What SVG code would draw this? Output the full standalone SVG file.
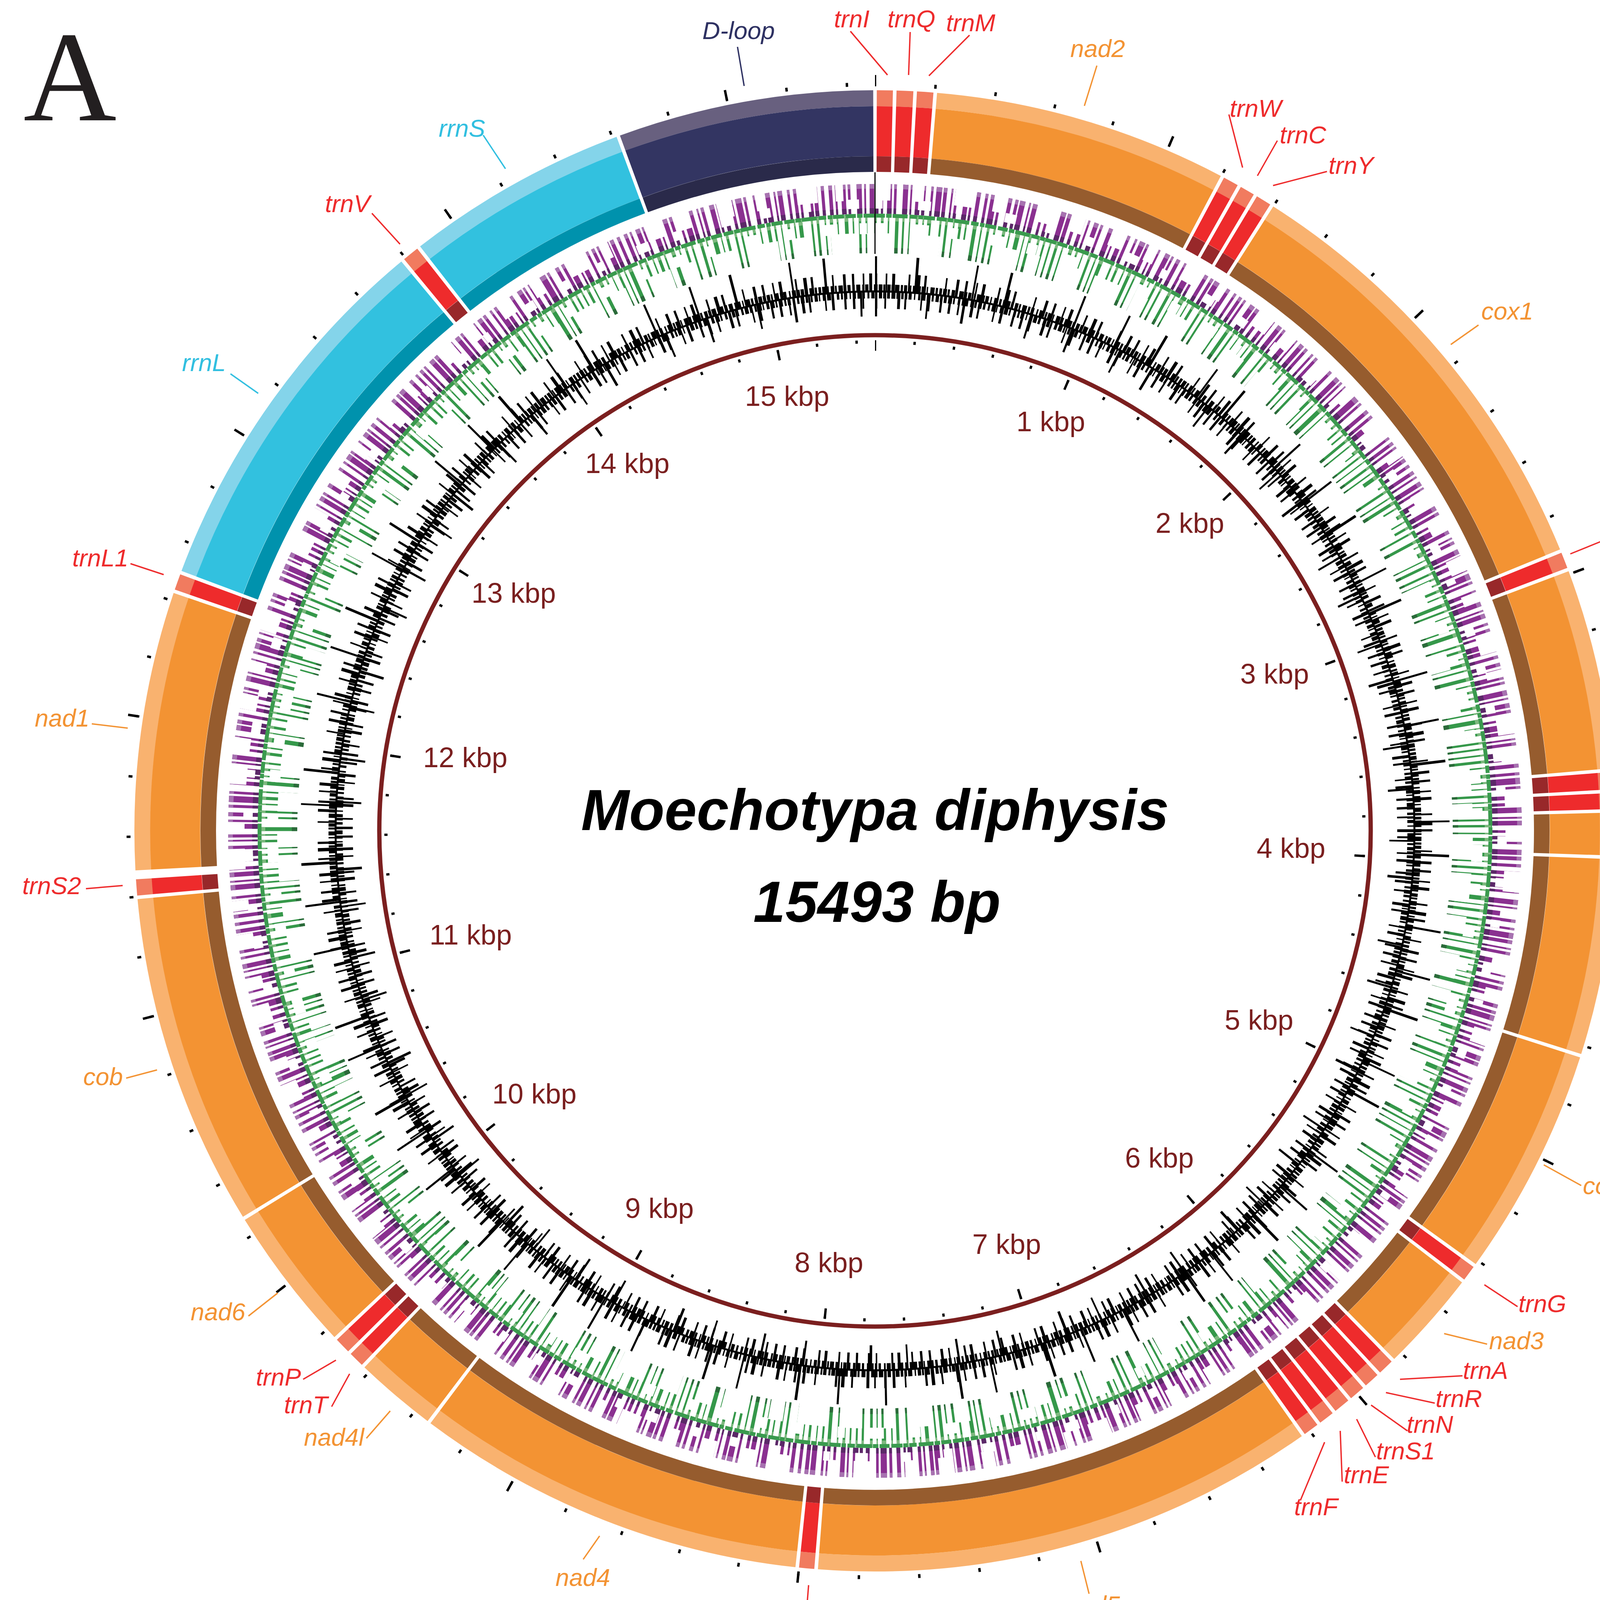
<svg xmlns="http://www.w3.org/2000/svg" width="5018" height="5600" viewBox="0 0 5018 5600">
<style>
text{font-family:"Liberation Sans",Arial,Helvetica,sans-serif}
.lab{font-size:63px;font-style:italic}
.ft{fill:#EE2B2C}.fp{fill:#F39333}.fr{fill:#31BFE0}.fd{fill:#2E3162}
.ld{fill:none;stroke-width:3.5}
.st{stroke:#EE2B2C}.sp{stroke:#F39333}.sr{stroke:#31BFE0}.sd{stroke:#2E3162}
.tr .L{stroke:#F17B5F}.tr .M{stroke:#EE2B2C}.tr .D{stroke:#98282A}
.pc .L{stroke:#F9B26F}.pc .M{stroke:#F39333}.pc .D{stroke:#965C2E}
.rr .L{stroke:#84D4EA}.rr .M{stroke:#32C1DF}.rr .D{stroke:#0092AD}
.dl .L{stroke:#68607F}.dl .M{stroke:#333562}.dl .D{stroke:#2A2A4A}
.kb{font-size:72px;fill:#7A1F1F;text-anchor:middle}
.lg{font-size:77px;font-weight:bold;fill:#231F20}
.sf{font-family:"Liberation Serif","Times New Roman",serif}
.bb{font-family:"Liberation Serif","Times New Roman",serif;font-weight:bold;font-size:145px;fill:#000}
.yb{fill:#F4B331;stroke:#000;stroke-width:4}
</style>
<defs>
<path id="bL" d="M0,-1875.5A1875.5,1875.5 0 1 1 0,1875.5A1875.5,1875.5 0 1 1 0,-1875.5" pathLength="15493" fill="none" stroke-width="41"/>
<path id="bM" d="M0,-1791A1791,1791 0 1 1 0,1791A1791,1791 0 1 1 0,-1791" pathLength="15493" fill="none" stroke-width="128"/>
<path id="bD" d="M0,-1707A1707,1707 0 1 1 0,1707A1707,1707 0 1 1 0,-1707" pathLength="15493" fill="none" stroke-width="40"/>
</defs>
<rect width="5018" height="5600" fill="#fff"/>

<text class="sf" x="60" y="308" font-size="330" fill="#231F20">A</text>

<g id="tracks" transform="translate(2240 2127)" fill="none">
<path d="M0,-1618A1618,1618 0 1 1 0,1618A1618,1618 0 1 1 0,-1618" pathLength="15493" stroke="#8A3090" stroke-width="76" stroke-dasharray="14 10 8 16 18 8 10 24 20 9 7 14 18 8 12 20 9 11 22 6 14 16 7 9 12 22 19 7 9 13 15 18 11 10 24 8 10 26 15 12 12 6 21 15 7 8 18 19 10 13 13 9 9 21 20 6 15 14 12 17"/>
<path d="M0,-1587A1587,1587 0 1 1 0,1587A1587,1587 0 1 1 0,-1587" pathLength="15493" stroke="#5B2868" stroke-width="14" stroke-dasharray="14 10 8 16 18 8 10 24 20 9 7 14 18 8 12 20 9 11 22 6 14 16 7 9 12 22 19 7 9 13 15 18 11 10 24 8 10 26 15 12 12 6 21 15 7 8 18 19 10 13 13 9 9 21 20 6 15 14 12 17"/>
<path d="M0,-1650A1650,1650 0 1 1 0,1650A1650,1650 0 1 1 0,-1650" pathLength="15493" stroke="#A772B0" stroke-width="12" stroke-dasharray="14 10 8 16 18 8 10 24 20 9 7 14 18 8 12 20 9 11 22 6 14 16 7 9 12 22 19 7 9 13 15 18 11 10 24 8 10 26 15 12 12 6 21 15 7 8 18 19 10 13 13 9 9 21 20 6 15 14 12 17"/>
<path d="M0,-1636A1636,1636 0 1 1 0,1636A1636,1636 0 1 1 0,-1636" pathLength="15493" stroke="#fff" stroke-width="44" stroke-dasharray="60 90 40 120 80 70 30 150 70 60 50 110"/>
<path d="M0,-1605A1605,1605 0 1 1 0,1605A1605,1605 0 1 1 0,-1605" pathLength="15493" stroke="#fff" stroke-width="24" stroke-dasharray="30 140 50 100 25 170 45 120 35 130"/>
<path d="M0,-1529A1529,1529 0 1 1 0,1529A1529,1529 0 1 1 0,-1529" pathLength="15493" stroke="#35984A" stroke-width="100" stroke-dasharray="7 17 11 17 6 24 14 15 8 19 5 22 10 17 6 13 16 34 8 15 10 22 6 15 13 15 7 25 15 17 6 19 10 17 8 28 12 15 6 21 18 16 5 16 11 25 9 16 8 18"/>
<path d="M0,-1569A1569,1569 0 1 1 0,1569A1569,1569 0 1 1 0,-1569" pathLength="15493" stroke="#7DB97F" stroke-width="16" stroke-dasharray="7 17 11 17 6 24 14 15 8 19 5 22 10 17 6 13 16 34 8 15 10 22 6 15 13 15 7 25 15 17 6 19 10 17 8 28 12 15 6 21 18 16 5 16 11 25 9 16 8 18"/>
<path d="M0,-1486A1486,1486 0 1 1 0,1486A1486,1486 0 1 1 0,-1486" pathLength="15493" stroke="#2B6A3A" stroke-width="14" stroke-dasharray="7 17 11 17 6 24 14 15 8 19 5 22 10 17 6 13 16 34 8 15 10 22 6 15 13 15 7 25 15 17 6 19 10 17 8 28 12 15 6 21 18 16 5 16 11 25 9 16 8 18"/>
<path d="M0,-1503A1503,1503 0 1 1 0,1503A1503,1503 0 1 1 0,-1503" pathLength="15493" stroke="#fff" stroke-width="54" stroke-dasharray="80 70 120 60 60 100 100 50 50 90"/>
<path d="M0,-1542A1542,1542 0 1 1 0,1542A1542,1542 0 1 1 0,-1542" pathLength="15493" stroke="#fff" stroke-width="28" stroke-dasharray="40 110 70 90 30 140 50 100"/>
<path d="M0,-1575A1575,1575 0 1 1 0,1575A1575,1575 0 1 1 0,-1575" pathLength="15493" stroke="#3A9A4E" stroke-width="10" stroke-dasharray="40 5 22 4 60 8 30 6 18 3 45 7"/>
<path d="M0,-1381A1381,1381 0 1 1 0,1381A1381,1381 0 1 1 0,-1381" stroke="#000" stroke-width="5"/>
<path d="M0,-1390A1390,1390 0 1 1 0,1390A1390,1390 0 1 1 0,-1390" pathLength="15493" stroke="#000" stroke-width="18" stroke-dasharray="12 5 17 4 9 9 15 4 8 8 20 6 10 5 14 12 7 7 18 9 9 4 15 8 6 11 19 5 10 7"/>
<path d="M0,-1404A1404,1404 0 1 1 0,1404A1404,1404 0 1 1 0,-1404" pathLength="15493" stroke="#000" stroke-width="46" stroke-dasharray="10 38 7 22 13 60 8 30 15 18 10 85 7 42 12 28"/>
<path d="M0,-1426A1426,1426 0 1 1 0,1426A1426,1426 0 1 1 0,-1426" pathLength="15493" stroke="#000" stroke-width="90" stroke-dasharray="9 170 12 250 8 140 11 320 9 200"/>
<path d="M0,-1372A1372,1372 0 1 1 0,1372A1372,1372 0 1 1 0,-1372" pathLength="15493" stroke="#000" stroke-width="18" stroke-dasharray="9 9 15 5 6 12 13 7 18 5 8 14 11 8 9 6 14 11 6 13 10 7 17 6 11 12"/>
<path d="M0,-1359A1359,1359 0 1 1 0,1359A1359,1359 0 1 1 0,-1359" pathLength="15493" stroke="#000" stroke-width="44" stroke-dasharray="11 33 8 52 13 20 9 66 7 25 12 46 10 30"/>
<path d="M0,-1349A1349,1349 0 1 1 0,1349A1349,1349 0 1 1 0,-1349" pathLength="15493" stroke="#000" stroke-width="64" stroke-dasharray="10 230 8 160 12 300 9 190"/>
<path d="M0,-1269A1269,1269 0 1 1 0,1269A1269,1269 0 1 1 0,-1269" stroke="#7B1F1F" stroke-width="11"/>
<path d="M0,-1252A1252,1252 0 1 1 0,1252A1252,1252 0 1 1 0,-1252" pathLength="15493" stroke="#000" stroke-width="8" stroke-dasharray="12 188" stroke-dashoffset="6"/>
<path d="M0,-1242A1242,1242 0 1 1 0,1242A1242,1242 0 1 1 0,-1242" pathLength="15493" stroke="#000" stroke-width="26" stroke-dasharray="12 988" stroke-dashoffset="6"/>
<path d="M0,-1911A1911,1911 0 1 1 0,1911A1911,1911 0 1 1 0,-1911" pathLength="15493" stroke="#000" stroke-width="10" stroke-dasharray="8 192" stroke-dashoffset="4"/>
<path d="M0,-1922A1922,1922 0 1 1 0,1922A1922,1922 0 1 1 0,-1922" pathLength="15493" stroke="#000" stroke-width="26" stroke-dasharray="8 992" stroke-dashoffset="4"/>
<path d="M0,-1686V-1477" stroke="#000" stroke-width="3"/>
</g>

<g id="kbp-labels">
<text class="kb" x="2690" y="1104">1 kbp</text>
<text class="kb" x="3046" y="1364">2 kbp</text>
<text class="kb" x="3263" y="1750">3 kbp</text>
<text class="kb" x="3305" y="2196">4 kbp</text>
<text class="kb" x="3223" y="2636">5 kbp</text>
<text class="kb" x="2968" y="2989">6 kbp</text>
<text class="kb" x="2577" y="3210">7 kbp</text>
<text class="kb" x="2122" y="3257">8 kbp</text>
<text class="kb" x="1688" y="3118">9 kbp</text>
<text class="kb" x="1368" y="2825">10 kbp</text>
<text class="kb" x="1205" y="2418">11 kbp</text>
<text class="kb" x="1191" y="1964">12 kbp</text>
<text class="kb" x="1315" y="1543">13 kbp</text>
<text class="kb" x="1606" y="1211">14 kbp</text>
<text class="kb" x="2015" y="1039">15 kbp</text>
</g>

<g id="leaders">
<path class="ld st" d="M2177,80L2272,192"/>
<path class="ld st" d="M2330,82L2326,192"/>
<path class="ld st" d="M2482,90L2378,194"/>
<path class="ld sp" d="M2808,168L2776,271"/>
<path class="ld st" d="M3146,293L3181,429"/>
<path class="ld st" d="M3270,360L3219,450"/>
<path class="ld st" d="M3397,439L3259,475"/>
<path class="ld sp" d="M3785,832L3714,882"/>
<path class="ld st" d="M4126,1375L4020,1418"/>
<path class="ld sp" d="M4219,1703L4123,1721"/>
<path class="ld st" d="M4258,1960L4158,1989"/>
<path class="ld st" d="M4265,2064L4158,2043"/>
<path class="ld sp" d="M4261,2139L4144,2150"/>
<path class="ld sp" d="M4236,2471L4130,2450"/>
<path class="ld sp" d="M4048,3035L3952,2982"/>
<path class="ld st" d="M3800,3289L3885,3345"/>
<path class="ld sp" d="M3697,3414L3807,3441"/>
<path class="ld st" d="M3584,3531L3744,3522"/>
<path class="ld st" d="M3548,3565L3673,3592"/>
<path class="ld st" d="M3510,3597L3603,3663"/>
<path class="ld st" d="M3473,3633L3521,3730"/>
<path class="ld st" d="M3431,3663L3436,3793"/>
<path class="ld st" d="M3391,3692L3329,3841"/>
<path class="ld sp" d="M2767,3996L2788,4080"/>
<path class="ld st" d="M2070,4058L2063,4146"/>
<path class="ld sp" d="M1535,3932L1493,3992"/>
<path class="ld sp" d="M999,3612L938,3682"/>
<path class="ld st" d="M895,3517L849,3601"/>
<path class="ld st" d="M860,3482L776,3531"/>
<path class="ld sp" d="M711,3310L636,3369"/>
<path class="ld sp" d="M402,2739L323,2760"/>
<path class="ld st" d="M314,2267L220,2275"/>
<path class="ld sp" d="M327,1864L235,1853"/>
<path class="ld st" d="M419,1471L334,1443"/>
<path class="ld sr" d="M661,1007L590,957"/>
<path class="ld st" d="M1024,625L952,546"/>
<path class="ld sr" d="M1294,432L1237,346"/>
<path class="ld sd" d="M1905,220L1888,120"/>
</g>

<g id="genes">
<g id="gene-trnI"><g class="tr" transform="translate(2240 2127)" style="stroke-dasharray:54 40000;stroke-dashoffset:-6"><use href="#bL" class="L"/><use href="#bM" class="M"/><use href="#bD" class="D"/></g><text class="lab ft" x="2135" y="70">trnI</text></g>
<g id="gene-trnQ"><g class="tr" transform="translate(2240 2127)" style="stroke-dasharray:56 40000;stroke-dashoffset:-72"><use href="#bL" class="L"/><use href="#bM" class="M"/><use href="#bD" class="D"/></g><text class="lab ft" x="2272" y="70">trnQ</text></g>
<g id="gene-trnM"><g class="tr" transform="translate(2240 2127)" style="stroke-dasharray:55 40000;stroke-dashoffset:-140"><use href="#bL" class="L"/><use href="#bM" class="M"/><use href="#bD" class="D"/></g><text class="lab ft" x="2422" y="80">trnM</text></g>
<g id="gene-nad2"><g class="pc" transform="translate(2240 2127)" style="stroke-dasharray:991 40000;stroke-dashoffset:-207"><use href="#bL" class="L"/><use href="#bM" class="M"/><use href="#bD" class="D"/></g><text class="lab fp" x="2740" y="146">nad2</text></g>
<g id="gene-trnW"><g class="tr" transform="translate(2240 2127)" style="stroke-dasharray:52 40000;stroke-dashoffset:-1210"><use href="#bL" class="L"/><use href="#bM" class="M"/><use href="#bD" class="D"/></g><text class="lab ft" x="3148" y="299">trnW</text></g>
<g id="gene-trnC"><g class="tr" transform="translate(2240 2127)" style="stroke-dasharray:50 40000;stroke-dashoffset:-1274"><use href="#bL" class="L"/><use href="#bM" class="M"/><use href="#bD" class="D"/></g><text class="lab ft" x="3276" y="367">trnC</text></g>
<g id="gene-trnY"><g class="tr" transform="translate(2240 2127)" style="stroke-dasharray:52 40000;stroke-dashoffset:-1336"><use href="#bL" class="L"/><use href="#bM" class="M"/><use href="#bD" class="D"/></g><text class="lab ft" x="3401" y="445">trnY</text></g>
<g id="gene-cox1"><g class="pc" transform="translate(2240 2127)" style="stroke-dasharray:1512 40000;stroke-dashoffset:-1400"><use href="#bL" class="L"/><use href="#bM" class="M"/><use href="#bD" class="D"/></g><text class="lab fp" x="3792" y="818">cox1</text></g>
<g id="gene-trnL2"><g class="tr" transform="translate(2240 2127)" style="stroke-dasharray:54 40000;stroke-dashoffset:-2924"><use href="#bL" class="L"/><use href="#bM" class="M"/><use href="#bD" class="D"/></g><text class="lab ft" x="4130" y="1389">trnL2</text></g>
<g id="gene-cox2"><g class="pc" transform="translate(2240 2127)" style="stroke-dasharray:674 40000;stroke-dashoffset:-2990"><use href="#bL" class="L"/><use href="#bM" class="M"/><use href="#bD" class="D"/></g><text class="lab fp" x="4222" y="1689">cox2</text></g>
<g id="gene-trnK"><g class="tr" transform="translate(2240 2127)" style="stroke-dasharray:58 40000;stroke-dashoffset:-3676"><use href="#bL" class="L"/><use href="#bM" class="M"/><use href="#bD" class="D"/></g><text class="lab ft" x="4265" y="1975">trnK</text></g>
<g id="gene-trnD"><g class="tr" transform="translate(2240 2127)" style="stroke-dasharray:54 40000;stroke-dashoffset:-3746"><use href="#bL" class="L"/><use href="#bM" class="M"/><use href="#bD" class="D"/></g><text class="lab ft" x="4268" y="2078">trnD</text></g>
<g id="gene-atp8"><g class="pc" transform="translate(2240 2127)" style="stroke-dasharray:144 40000;stroke-dashoffset:-3812"><use href="#bL" class="L"/><use href="#bM" class="M"/><use href="#bD" class="D"/></g><text class="lab fp" x="4268" y="2153">atp8</text></g>
<g id="gene-atp6"><g class="pc" transform="translate(2240 2127)" style="stroke-dasharray:660 40000;stroke-dashoffset:-3968"><use href="#bL" class="L"/><use href="#bM" class="M"/><use href="#bD" class="D"/></g><text class="lab fp" x="4240" y="2489">atp6</text></g>
<g id="gene-cox3"><g class="pc" transform="translate(2240 2127)" style="stroke-dasharray:774 40000;stroke-dashoffset:-4640"><use href="#bL" class="L"/><use href="#bM" class="M"/><use href="#bD" class="D"/></g><text class="lab fp" x="4052" y="3057">cox3</text></g>
<g id="gene-trnG"><g class="tr" transform="translate(2240 2127)" style="stroke-dasharray:52 40000;stroke-dashoffset:-5426"><use href="#bL" class="L"/><use href="#bM" class="M"/><use href="#bD" class="D"/></g><text class="lab ft" x="3887" y="3359">trnG</text></g>
<g id="gene-nad3"><g class="pc" transform="translate(2240 2127)" style="stroke-dasharray:341 40000;stroke-dashoffset:-5490"><use href="#bL" class="L"/><use href="#bM" class="M"/><use href="#bD" class="D"/></g><text class="lab fp" x="3812" y="3454">nad3</text></g>
<g id="gene-trnA"><g class="tr" transform="translate(2240 2127)" style="stroke-dasharray:53 40000;stroke-dashoffset:-5843"><use href="#bL" class="L"/><use href="#bM" class="M"/><use href="#bD" class="D"/></g><text class="lab ft" x="3745" y="3530">trnA</text></g>
<g id="gene-trnR"><g class="tr" transform="translate(2240 2127)" style="stroke-dasharray:52 40000;stroke-dashoffset:-5908"><use href="#bL" class="L"/><use href="#bM" class="M"/><use href="#bD" class="D"/></g><text class="lab ft" x="3675" y="3602">trnR</text></g>
<g id="gene-trnN"><g class="tr" transform="translate(2240 2127)" style="stroke-dasharray:53 40000;stroke-dashoffset:-5972"><use href="#bL" class="L"/><use href="#bM" class="M"/><use href="#bD" class="D"/></g><text class="lab ft" x="3601" y="3668">trnN</text></g>
<g id="gene-trnS1"><g class="tr" transform="translate(2240 2127)" style="stroke-dasharray:55 40000;stroke-dashoffset:-6037"><use href="#bL" class="L"/><use href="#bM" class="M"/><use href="#bD" class="D"/></g><text class="lab ft" x="3523" y="3736">trnS1</text></g>
<g id="gene-trnE"><g class="tr" transform="translate(2240 2127)" style="stroke-dasharray:52 40000;stroke-dashoffset:-6104"><use href="#bL" class="L"/><use href="#bM" class="M"/><use href="#bD" class="D"/></g><text class="lab ft" x="3440" y="3797">trnE</text></g>
<g id="gene-trnF"><g class="tr" transform="translate(2240 2127)" style="stroke-dasharray:52 40000;stroke-dashoffset:-6168"><use href="#bL" class="L"/><use href="#bM" class="M"/><use href="#bD" class="D"/></g><text class="lab ft" x="3313" y="3879">trnF</text></g>
<g id="gene-nad5"><g class="pc" transform="translate(2240 2127)" style="stroke-dasharray:1705 40000;stroke-dashoffset:-6232"><use href="#bL" class="L"/><use href="#bM" class="M"/><use href="#bD" class="D"/></g><text class="lab fp" x="2727" y="4130">nad5</text></g>
<g id="gene-trnH"><g class="tr" transform="translate(2240 2127)" style="stroke-dasharray:51 40000;stroke-dashoffset:-7949"><use href="#bL" class="L"/><use href="#bM" class="M"/><use href="#bD" class="D"/></g><text class="lab ft" x="2003" y="4195">trnH</text></g>
<g id="gene-nad4"><g class="pc" transform="translate(2240 2127)" style="stroke-dasharray:1322 40000;stroke-dashoffset:-8012"><use href="#bL" class="L"/><use href="#bM" class="M"/><use href="#bD" class="D"/></g><text class="lab fp" x="1422" y="4060">nad4</text></g>
<g id="gene-nad4l"><g class="pc" transform="translate(2240 2127)" style="stroke-dasharray:276 40000;stroke-dashoffset:-9346"><use href="#bL" class="L"/><use href="#bM" class="M"/><use href="#bD" class="D"/></g><text class="lab fp" x="778" y="3701">nad4l</text></g>
<g id="gene-trnT"><g class="tr" transform="translate(2240 2127)" style="stroke-dasharray:52 40000;stroke-dashoffset:-9634"><use href="#bL" class="L"/><use href="#bM" class="M"/><use href="#bD" class="D"/></g><text class="lab ft" x="727" y="3618">trnT</text></g>
<g id="gene-trnP"><g class="tr" transform="translate(2240 2127)" style="stroke-dasharray:54 40000;stroke-dashoffset:-9698"><use href="#bL" class="L"/><use href="#bM" class="M"/><use href="#bD" class="D"/></g><text class="lab ft" x="655" y="3547">trnP</text></g>
<g id="gene-nad6"><g class="pc" transform="translate(2240 2127)" style="stroke-dasharray:492 40000;stroke-dashoffset:-9764"><use href="#bL" class="L"/><use href="#bM" class="M"/><use href="#bD" class="D"/></g><text class="lab fp" x="488" y="3380">nad6</text></g>
<g id="gene-cob"><g class="pc" transform="translate(2240 2127)" style="stroke-dasharray:1124 40000;stroke-dashoffset:-10268"><use href="#bL" class="L"/><use href="#bM" class="M"/><use href="#bD" class="D"/></g><text class="lab fp" x="213" y="2778">cob</text></g>
<g id="gene-trnS2"><g class="tr" transform="translate(2240 2127)" style="stroke-dasharray:54 40000;stroke-dashoffset:-11404"><use href="#bL" class="L"/><use href="#bM" class="M"/><use href="#bD" class="D"/></g><text class="lab ft" x="57" y="2289">trnS2</text></g>
<g id="gene-nad1"><g class="pc" transform="translate(2240 2127)" style="stroke-dasharray:938 40000;stroke-dashoffset:-11488"><use href="#bL" class="L"/><use href="#bM" class="M"/><use href="#bD" class="D"/></g><text class="lab fp" x="89" y="1860">nad1</text></g>
<g id="gene-trnL1"><g class="tr" transform="translate(2240 2127)" style="stroke-dasharray:54 40000;stroke-dashoffset:-12438"><use href="#bL" class="L"/><use href="#bM" class="M"/><use href="#bD" class="D"/></g><text class="lab ft" x="185" y="1450">trnL1</text></g>
<g id="gene-rrnL"><g class="rr" transform="translate(2240 2127)" style="stroke-dasharray:1278 40000;stroke-dashoffset:-12504"><use href="#bL" class="L"/><use href="#bM" class="M"/><use href="#bD" class="D"/></g><text class="lab fr" x="466" y="950">rrnL</text></g>
<g id="gene-trnV"><g class="tr" transform="translate(2240 2127)" style="stroke-dasharray:56 40000;stroke-dashoffset:-13794"><use href="#bL" class="L"/><use href="#bM" class="M"/><use href="#bD" class="D"/></g><text class="lab ft" x="832" y="543">trnV</text></g>
<g id="gene-rrnS"><g class="rr" transform="translate(2240 2127)" style="stroke-dasharray:752 40000;stroke-dashoffset:-13862"><use href="#bL" class="L"/><use href="#bM" class="M"/><use href="#bD" class="D"/></g><text class="lab fr" x="1123" y="350">rrnS</text></g>
<g id="gene-Dloop"><g class="dl" transform="translate(2240 2127)" style="stroke-dasharray:861 40000;stroke-dashoffset:-14626"><use href="#bL" class="L"/><use href="#bM" class="M"/><use href="#bD" class="D"/></g><text class="lab fd" x="1798" y="100">D-loop</text></g>
</g>

<g id="title" font-weight="bold" font-style="italic" font-size="148" fill="#000" text-anchor="middle">
<text x="2240" y="2125">Moechotypa diphysis</text>
<text x="2245" y="2360">15493 bp</text>
</g>

<g id="legend">
<rect x="4264" y="285" width="140" height="138" fill="#000"/>
<rect x="4264" y="486" width="140" height="139" fill="#8A2F90"/>
<rect x="4264" y="696" width="140" height="139" fill="#35984A"/>
<text class="lg" x="4470" y="381">GC Content</text>
<text class="lg" x="4470" y="586">GC Skew(-)</text>
<text class="lg" x="4470" y="796">GC Skew(+)</text>
</g>

<text class="sf" x="64" y="4562" font-size="330" fill="#231F20">B</text>

<g id="panelB">
<rect x="338" y="4702" width="4384" height="400" fill="#2E315C" stroke="#000" stroke-width="6"/>
<g id="b-rrnS"><rect x="338" y="4702" width="405" height="400" fill="#33BFE8" stroke="#000" stroke-width="5"/><text class="bb" x="540" y="4952" text-anchor="middle" font-size="140">rrnS</text></g>
<g id="b-repeats">
<rect class="yb" x="966" y="4702" width="164" height="402"/>
<rect class="yb" x="1130" y="4702" width="168" height="402"/>
<rect class="yb" x="1298" y="4702" width="166" height="402"/>
<rect class="yb" x="1464" y="4702" width="168" height="402"/>
<rect class="yb" x="1632" y="4702" width="167" height="402"/>
<rect class="yb" x="1799" y="4702" width="11" height="402"/>
<g class="bb" text-anchor="middle" font-size="140">
<text x="1048" y="4943">1</text>
<text x="1214" y="4943">2</text>
<text x="1381" y="4943">3</text>
<text x="1548" y="4943">4</text>
<text x="1718" y="4943">5</text>
<text x="1821" y="4943">6</text>
</g>
</g>
<g id="b-sites">
<rect x="3086" y="4705" width="49" height="394" fill="#A09F93"/>
<rect x="3369" y="4705" width="41" height="394" fill="#333333"/>
<rect x="4027" y="4705" width="34" height="394" fill="#333333"/>
<rect x="4188" y="4705" width="30" height="394" fill="#333333"/>
<g class="sf" font-weight="bold" font-size="170" text-anchor="middle">
<text x="3105" y="4668" fill="#A09F93">A</text>
<text x="3390" y="4668" fill="#333333">T</text>
<text x="4042" y="4668" fill="#333333">T</text>
<text x="4204" y="4668" fill="#333333">T</text>
</g>
</g>
<g id="b-trnI"><rect x="4308" y="4702" width="414" height="400" fill="#DC3030" stroke="#000" stroke-width="5"/><text class="bb" x="4522" y="4948" text-anchor="middle" font-size="140">trnI</text></g>
<g id="b-scale" stroke="#000" stroke-width="9">
<path d="M744,5141H965"/>
<path d="M966,5218H1811"/>
<path d="M1814,5165H4313"/>
<path d="M743,5424H4218"/>
</g>
<text class="bb" x="660" y="5264">53bp</text>
<text class="bb" x="942" y="5359" textLength="965">41bp × 5 + 2bp</text>
<text class="bb" x="2910" y="5302">614bp</text>
<text class="bb" x="2428" y="5554">874bp</text>
</g>
</svg>
